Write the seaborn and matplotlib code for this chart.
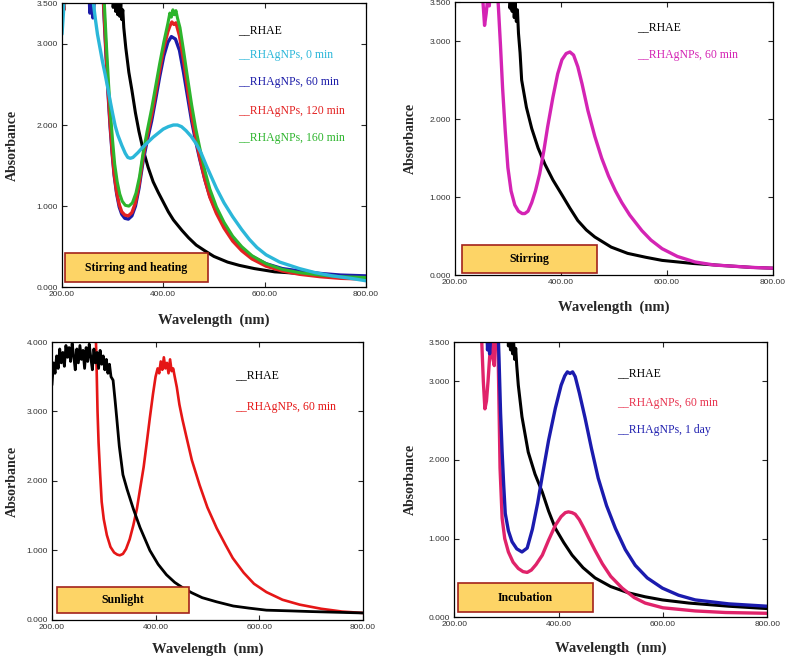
import matplotlib
matplotlib.use("Agg")
import matplotlib.pyplot as plt
import matplotlib.patches as mpatches
import seaborn as sns

# ---- Stirring and heating (top left) ----
wl_sh_rhae = [200, 298, 301, 304, 306, 308, 310, 312, 314, 316, 318, 320, 322, 326, 332, 338, 345, 352, 360, 370,
              380, 390, 400, 410, 420, 437, 450, 465, 482, 500, 527, 550, 580, 620, 669, 720, 760, 800]
a_sh_rhae = [3.9, 3.9, 3.45, 3.62, 3.40, 3.58, 3.36, 3.55, 3.34, 3.50, 3.30, 3.42, 3.2, 2.95, 2.65, 2.43, 2.15, 1.92, 1.70, 1.48,
             1.30, 1.17, 1.05, 0.93, 0.83, 0.70, 0.61, 0.52, 0.45, 0.38, 0.31, 0.27, 0.23, 0.19, 0.17, 0.15, 0.13, 0.12]

wl_sh_0 = [200, 203, 206, 258, 262, 266, 270, 275, 280, 285, 290, 295, 300, 305, 310, 318, 325, 330, 335, 340,
           350, 360, 370, 380, 390, 400, 410, 420, 428, 436, 445, 455, 465, 475, 485, 495, 505, 520, 537, 555,
           570, 585, 603, 630, 669, 700, 734, 770, 800]
a_sh_0 = [3.12, 3.4, 3.9, 3.9, 3.5, 3.3, 3.12, 2.95, 2.78, 2.63, 2.47, 2.30, 2.14, 1.99, 1.88, 1.75, 1.65, 1.60, 1.59, 1.60,
          1.66, 1.73, 1.79, 1.85, 1.90, 1.95, 1.98, 2.0, 2.0, 1.98, 1.93, 1.86, 1.77, 1.65, 1.50, 1.36, 1.22, 1.04, 0.87, 0.71,
          0.59, 0.49, 0.40, 0.31, 0.23, 0.18, 0.14, 0.11, 0.08]

wl_sh_60 = [200, 252, 255, 258, 261, 264, 267, 279, 283, 287, 291, 295, 299, 303, 308, 313, 318, 324, 331, 338,
            345, 352, 360, 368, 377, 385, 393, 401, 409, 416, 424, 432, 440, 448, 456, 464, 472, 482, 492, 505,
            520, 537, 555, 575, 603, 635, 669, 710, 750, 800]
a_sh_60 = [3.9, 3.9, 3.38, 3.5, 3.32, 3.55, 3.9, 3.9, 3.35, 2.85, 2.38, 1.98, 1.65, 1.38, 1.15, 0.99, 0.90, 0.85, 0.84, 0.88,
           1.0, 1.22, 1.55, 1.80, 2.05, 2.32, 2.6, 2.85, 3.02, 3.09, 3.06, 2.92, 2.65, 2.35, 2.05, 1.80, 1.58, 1.33, 1.12, 0.93,
           0.76, 0.61, 0.48, 0.38, 0.29, 0.23, 0.20, 0.17, 0.15, 0.14]

wl_sh_120 = [200, 202, 204, 206, 279, 283, 287, 291, 295, 299, 303, 308, 313, 318, 324, 331, 338, 345, 352, 360,
             368, 377, 385, 393, 401, 409, 413, 417, 421, 425, 432, 440, 448, 456, 464, 472, 482, 492, 505, 520,
             537, 555, 575, 603, 635, 669, 710, 750, 800]
a_sh_120 = [3.35, 3.5, 3.42, 3.9, 3.9, 3.4, 2.9, 2.42, 2.02, 1.68, 1.40, 1.17, 1.02, 0.93, 0.89, 0.88, 0.92, 1.04, 1.26, 1.6,
            1.86, 2.12, 2.4, 2.68, 2.95, 3.15, 3.22, 3.27, 3.24, 3.26, 3.1, 2.8, 2.45, 2.12, 1.84, 1.6, 1.33, 1.11, 0.91, 0.73,
            0.57, 0.45, 0.35, 0.26, 0.20, 0.16, 0.13, 0.11, 0.10]

wl_sh_160 = [200, 280, 284, 288, 292, 296, 300, 304, 309, 314, 319, 325, 332, 339, 346, 353, 360, 368, 377, 385,
             393, 401, 409, 413, 416, 419, 422, 425, 428, 433, 440, 448, 456, 464, 472, 482, 492, 505, 520, 537,
             555, 575, 603, 635, 669, 710, 750, 800]
a_sh_160 = [3.9, 3.9, 3.45, 2.95, 2.5, 2.12, 1.8, 1.52, 1.3, 1.15, 1.06, 1.01, 1.0, 1.04, 1.16, 1.36, 1.65, 1.92, 2.2, 2.48,
            2.76, 3.02, 3.25, 3.38, 3.33, 3.42, 3.36, 3.41, 3.32, 3.2, 2.92, 2.58, 2.25, 1.96, 1.72, 1.44, 1.21, 0.99, 0.80, 0.63,
            0.50, 0.39, 0.29, 0.22, 0.18, 0.15, 0.13, 0.12]

# ---- Stirring (top right) ----
wl_st_rhae = [200, 302, 304, 306, 308, 310, 312, 314, 316, 318, 320, 323, 326, 335, 345, 357, 370, 385, 402, 417,
              432, 448, 464, 495, 526, 560, 591, 650, 715, 760, 800]
a_st_rhae = [3.9, 3.9, 3.42, 3.6, 3.38, 3.55, 3.3, 3.48, 3.25, 3.4, 3.1, 2.85, 2.5, 2.15, 1.88, 1.63, 1.42, 1.22, 1.03, 0.86,
             0.70, 0.58, 0.49, 0.36, 0.28, 0.23, 0.19, 0.15, 0.12, 0.10, 0.09]

wl_st_60 = [250, 253, 256, 259, 262, 265, 268, 271, 278, 282, 286, 290, 295, 300, 306, 313, 320, 327, 332, 338,
            345, 352, 360, 368, 375, 385, 394, 402, 410, 417, 424, 432, 440, 451, 464, 477, 490, 503, 515, 530,
            553, 570, 591, 620, 653, 690, 715, 760, 800]
a_st_60 = [3.9, 3.5, 3.2, 3.35, 3.55, 3.45, 3.9, 3.9, 3.9, 3.45, 2.95, 2.4, 1.85, 1.38, 1.08, 0.9, 0.82, 0.79, 0.79, 0.82,
           0.93, 1.08, 1.3, 1.6, 1.9, 2.28, 2.58, 2.76, 2.84, 2.86, 2.82, 2.67, 2.45, 2.11, 1.78, 1.50, 1.27, 1.08, 0.93, 0.77,
           0.57, 0.45, 0.34, 0.24, 0.17, 0.13, 0.12, 0.10, 0.09]

# ---- Sunlight (bottom left) ----
wl_sl_rhae = [200, 203, 206, 209, 212, 215, 218, 221, 224, 227, 230, 233, 236, 239, 242, 245, 248, 251, 254, 257,
              260, 263, 266, 269, 272, 275, 278, 281, 284, 287, 290, 293, 296, 299, 302, 305, 308, 311, 314, 318,
              322, 325, 330, 337, 345, 357, 370, 389, 405, 421, 437, 453, 470, 490, 518, 550, 580, 614, 660, 700,
              750, 800]
a_sl_rhae = [3.38, 3.7, 3.55, 3.8, 3.62, 3.9, 3.7, 3.85, 3.65, 3.95, 3.78, 3.92, 3.72, 3.98, 3.8, 3.6, 3.9, 3.7, 3.95, 3.75,
             3.88, 3.62, 3.92, 3.72, 3.97, 3.78, 3.6, 3.9, 3.7, 3.85, 3.62, 3.88, 3.68, 3.8, 3.6, 3.75, 3.55, 3.68, 3.5, 3.45,
             3.15, 2.91, 2.5, 2.09, 1.88, 1.6, 1.33, 1.0, 0.8, 0.65, 0.54, 0.46, 0.39, 0.32, 0.26, 0.2, 0.17, 0.14, 0.13, 0.12,
             0.11, 0.10]

wl_sl_60 = [200, 284, 286, 288, 290, 293, 296, 300, 306, 313, 320, 326, 331, 337, 343, 350, 357, 364, 370, 377,
            383, 389, 395, 400, 404, 407, 410, 413, 416, 419, 422, 425, 428, 431, 434, 437, 441, 446, 452, 460,
            470, 485, 500, 518, 535, 549, 570, 590, 614, 645, 678, 720, 760, 800]
a_sl_60 = [4.3, 4.3, 3.7, 3.0, 2.55, 2.1, 1.7, 1.45, 1.22, 1.05, 0.97, 0.94, 0.93, 0.95, 1.02, 1.16, 1.36, 1.6, 1.88, 2.2,
           2.55, 2.91, 3.25, 3.5, 3.62, 3.55, 3.72, 3.6, 3.78, 3.62, 3.7, 3.55, 3.75, 3.58, 3.62, 3.5, 3.35, 3.1, 2.88, 2.62,
           2.3, 1.94, 1.62, 1.32, 1.08, 0.89, 0.68, 0.52, 0.40, 0.29, 0.22, 0.16, 0.12, 0.10]

# ---- Incubation (bottom right) ----
wl_in_rhae = [200, 302, 304, 306, 308, 310, 312, 314, 316, 318, 320, 323, 330, 342, 355, 369, 381, 394, 410, 426,
              447, 470, 500, 534, 566, 599, 650, 726, 800]
a_in_rhae = [3.9, 3.9, 3.45, 3.62, 3.4, 3.58, 3.35, 3.5, 3.28, 3.42, 3.2, 2.95, 2.55, 2.1, 1.82, 1.59, 1.35, 1.13, 0.95, 0.79,
             0.63, 0.50, 0.39, 0.31, 0.26, 0.22, 0.18, 0.14, 0.11]

wl_in_60 = [200, 250, 253, 256, 259, 262, 265, 268, 271, 274, 277, 280, 283, 284, 286, 288, 292, 297, 304, 313,
            323, 332, 340, 348, 357, 369, 381, 394, 405, 413, 419, 426, 432, 440, 448, 457, 470, 484, 500, 522,
            545, 566, 600, 662, 720, 800]
a_in_60 = [3.9, 3.9, 3.5, 3.0, 2.65, 2.75, 3.0, 3.3, 3.55, 3.3, 3.2, 3.9, 3.9, 3.5, 2.7, 1.9, 1.26, 1.0, 0.83, 0.70,
           0.62, 0.58, 0.57, 0.60, 0.67, 0.79, 0.98, 1.17, 1.28, 1.33, 1.34, 1.33, 1.31, 1.24, 1.14, 1.02, 0.85, 0.68, 0.52, 0.37,
           0.25, 0.18, 0.12, 0.08, 0.06, 0.05]

wl_in_1d = [200, 262, 264, 266, 268, 270, 272, 274, 283, 286, 289, 292, 295, 298, 304, 311, 320, 330, 340, 350,
            360, 369, 381, 394, 405, 412, 417, 422, 427, 432, 440, 451, 463, 476, 492, 509, 528, 547, 570, 599,
            630, 662, 726, 800]
a_in_1d = [3.9, 3.9, 3.4, 3.6, 3.35, 3.55, 3.9, 3.9, 3.9, 3.3, 2.6, 2.1, 1.68, 1.32, 1.1, 0.96, 0.87, 0.83, 0.88, 1.12,
           1.45, 1.80, 2.25, 2.66, 2.95, 3.07, 3.12, 3.1, 3.12, 3.06, 2.85, 2.53, 2.15, 1.77, 1.42, 1.13, 0.86, 0.66, 0.50, 0.37,
           0.28, 0.22, 0.17, 0.14]

serif = "Liberation Serif"
box_fill = "#FDD466"
box_edge = "#A3231B"

sns.set_style("ticks")
plt.rcParams["font.family"] = ["Liberation Sans", "DejaVu Sans"]

fig = plt.figure(figsize=(7.87, 6.68), dpi=100)

panels = [
    dict(rect=[0.0788, 0.570, 0.386, 0.425], ymax=3.5, yticks=[0, 1, 2, 3, 3.5],
         series=[(wl_sh_rhae, a_sh_rhae, "black", 2.2), (wl_sh_60, a_sh_60, "#1B1BA8", 2.4),
                 (wl_sh_120, a_sh_120, "#E32222", 2.4), (wl_sh_160, a_sh_160, "#2DB52D", 2.2),
                 (wl_sh_0, a_sh_0, "#2BB7D9", 2.4)],
         legend=[("__RHAE", "black"), ("__RHAgNPs, 0 min", "#2BB7D9"), ("__RHAgNPs, 60 min", "#1B1BA8"),
                 ("__RHAgNPs, 120 min", "#E32222"), ("__RHAgNPs, 160 min", "#2DB52D")],
         leg_x=0.578, leg_y=[0.905, 0.817, 0.722, 0.62, 0.525],
         box=(0.01, 0.018, 0.47, 0.102), box_text="Stirring and heating",
         ylab_x=-0.141, xlab_y=-0.092),
    dict(rect=[0.578, 0.588, 0.404, 0.409], ymax=3.5, yticks=[0, 1, 2, 3, 3.5],
         series=[(wl_st_rhae, a_st_rhae, "black", 2.2), (wl_st_60, a_st_60, "#D424B4", 2.4)],
         legend=[("__RHAE", "black"), ("__RHAgNPs, 60 min", "#D424B4")],
         leg_x=0.572, leg_y=[0.908, 0.806],
         box=(0.022, 0.007, 0.425, 0.103), box_text="Stirring",
         ylab_x=-0.12, xlab_y=-0.092),
    dict(rect=[0.066, 0.072, 0.395, 0.416], ymax=4.0, yticks=[0, 1, 2, 3, 4],
         series=[(wl_sl_60, a_sl_60, "#E51616", 1.9), (wl_sl_rhae, a_sl_rhae, "black", 2.0)],
         legend=[("__RHAE", "black"), ("__RHAgNPs, 60 min", "#E51616")],
         leg_x=0.588, leg_y=[0.88, 0.766],
         box=(0.016, 0.025, 0.424, 0.094), box_text="Sunlight",
         ylab_x=-0.106, xlab_y=-0.083),
    dict(rect=[0.577, 0.076, 0.398, 0.412], ymax=3.5, yticks=[0, 1, 2, 3, 3.5],
         series=[(wl_in_rhae, a_in_rhae, "black", 2.2), (wl_in_60, a_in_60, "#E0236A", 2.4),
                 (wl_in_1d, a_in_1d, "#1B1BAE", 2.4)],
         legend=[("__RHAE", "black"), ("__RHAgNPs, 60 min", "#E8334F"), ("__RHAgNPs, 1 day", "#2222B0")],
         leg_x=0.52, leg_y=[0.887, 0.778, 0.68],
         box=(0.013, 0.018, 0.431, 0.106), box_text="Incubation",
         ylab_x=-0.118, xlab_y=-0.087),
]

for p in panels:
    ax = fig.add_axes(p["rect"])
    for wl, ab, col, lw in p["series"]:
        sns.lineplot(x=wl, y=ab, ax=ax, color=col, linewidth=lw, sort=False, estimator=None)
    ax.set_xlim(200, 800)
    ax.set_ylim(0, p["ymax"])
    ax.set_xticks([200, 400, 600, 800])
    ax.set_xticklabels(["%.2f" % v for v in [200, 400, 600, 800]])
    ax.set_yticks(p["yticks"])
    ax.set_yticklabels(["%.3f" % v for v in p["yticks"]])
    ax.tick_params(direction="in", length=3.5, width=0.8, top=True, right=True,
                   labelsize=6, labelcolor="#333333", pad=3)
    for s in ax.spines.values():
        s.set_linewidth(0.9)
        s.set_color("black")
    ax.set_xlabel("Wavelength  (nm)", fontfamily=serif, fontweight="bold", fontsize=10.5)
    ax.set_ylabel("Absorbance", fontfamily=serif, fontweight="bold", fontsize=10)
    ax.yaxis.set_label_coords(p["ylab_x"], 0.5)
    ax.xaxis.set_label_coords(0.5, p["xlab_y"])
    for (txt, col), yy in zip(p["legend"], p["leg_y"]):
        ax.text(p["leg_x"], yy, txt, transform=ax.transAxes, color=col, fontfamily=serif,
                fontsize=8.5, va="center", ha="left")
    bx, by, bw, bh = p["box"]
    ax.add_patch(mpatches.Rectangle((bx, by), bw, bh, transform=ax.transAxes, facecolor=box_fill,
                                    edgecolor=box_edge, linewidth=1.2, zorder=5))
    ax.text(bx + bw / 2, by + bh / 2, p["box_text"], transform=ax.transAxes, ha="center", va="center",
            fontfamily=serif, fontweight="bold", fontsize=8.5, color="black", zorder=6)

fig.savefig("out.png", dpi=100)
